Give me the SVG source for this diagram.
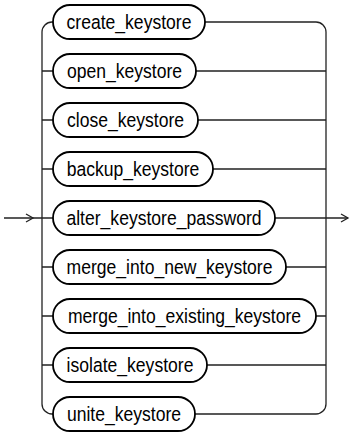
<svg xmlns="http://www.w3.org/2000/svg" width="350" height="436" viewBox="0 0 350 436">
<style>
.box{fill:#fff;stroke:#000;stroke-width:1.8}
.lbl{font-family:"Liberation Sans",Arial,sans-serif;font-size:19.5px;fill:#000;text-anchor:middle}
.ln{fill:none;stroke:#222;stroke-width:1.3}
</style>
<rect width="350" height="436" fill="#fff"/>
<g id="connectors">
<path class="ln" d="M4,218 H53"/>
<path class="ln" d="M26,214 L33,218 L26,222"/>
<path class="ln" d="M54,22 H52 A10,10 0 0 0 42,32 V404 A10,10 0 0 0 52,414 H54"/>
<path class="ln" d="M42,71 H54 M42,120 H54 M42,169 H54 M42,267 H54 M42,316 H54 M42,365 H54"/>
<path class="ln" d="M205,22 H316 A10,10 0 0 1 326,32 V404 A10,10 0 0 1 316,414 H195"/>
<path class="ln" d="M196,71 H326 M198,120 H326 M213,169 H326 M286,267 H326 M316,316 H326 M207,365 H326"/>
<path class="ln" d="M275,218 H348"/>
<path class="ln" d="M341,214 L348,218 L341,222"/>
</g>
<g id="create_keystore"><rect class="box" x="53" y="5" width="152" height="34" rx="17"/><text class="lbl" transform="translate(129,29) scale(0.9,1)">create_keystore</text></g>
<g id="open_keystore"><rect class="box" x="53" y="54" width="143" height="34" rx="17"/><text class="lbl" transform="translate(124.5,78) scale(0.9,1)">open_keystore</text></g>
<g id="close_keystore"><rect class="box" x="53" y="103" width="145" height="34" rx="17"/><text class="lbl" transform="translate(125.5,127) scale(0.9,1)">close_keystore</text></g>
<g id="backup_keystore"><rect class="box" x="53" y="152" width="160" height="34" rx="17"/><text class="lbl" transform="translate(133,176) scale(0.9,1)">backup_keystore</text></g>
<g id="alter_keystore_password"><rect class="box" x="53" y="201" width="222" height="34" rx="17"/><text class="lbl" transform="translate(164,225) scale(0.9,1)">alter_keystore_password</text></g>
<g id="merge_into_new_keystore"><rect class="box" x="53" y="250" width="233" height="34" rx="17"/><text class="lbl" transform="translate(169.5,274) scale(0.9,1)">merge_into_new_keystore</text></g>
<g id="merge_into_existing_keystore"><rect class="box" x="53" y="299" width="263" height="34" rx="17"/><text class="lbl" transform="translate(184.5,323) scale(0.9,1)">merge_into_existing_keystore</text></g>
<g id="isolate_keystore"><rect class="box" x="53" y="348" width="154" height="34" rx="17"/><text class="lbl" transform="translate(130,372) scale(0.9,1)">isolate_keystore</text></g>
<g id="unite_keystore"><rect class="box" x="53" y="397" width="142" height="34" rx="17"/><text class="lbl" transform="translate(124,421) scale(0.9,1)">unite_keystore</text></g>
</svg>
